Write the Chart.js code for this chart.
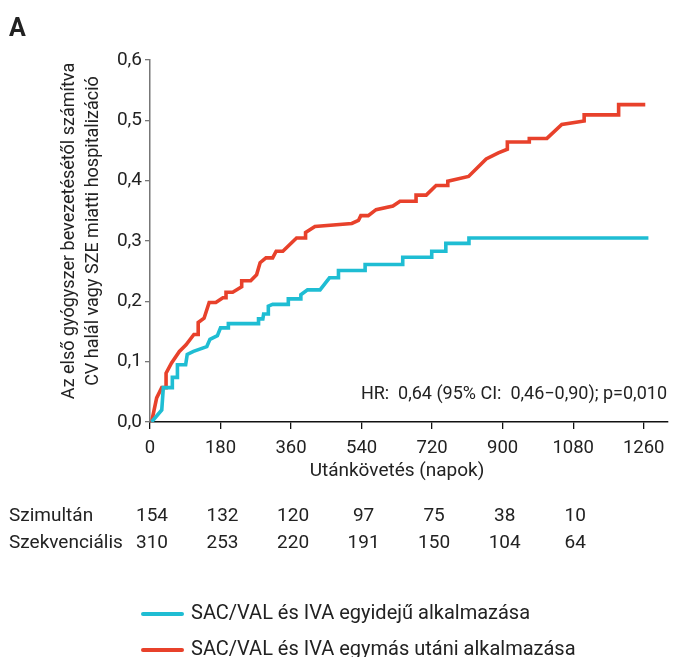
<!DOCTYPE html>
<html><head><meta charset="utf-8">
<script src="https://cdn.jsdelivr.net/npm/chart.js@4/dist/chart.umd.min.js"></script>
<style>html,body{margin:0;padding:0;background:#fff}#wrap{width:673px;height:657px;position:relative}</style>
</head><body><div id="wrap"><canvas id="c" width="673" height="657"></canvas></div>
<script>
// ---- data ----
const xTicks = [0,180,360,540,720,900,1080,1260];
const yTicks = [0,0.1,0.2,0.3,0.4,0.5,0.6];
const seriesNames = ["SAC/VAL és IVA egyidejű alkalmazása","SAC/VAL és IVA egymás utáni alkalmazása"];
const simDays = [4,30,34,57,57,70,70,91,95,111,145,153,172,180,200,200,277,277,288,290,302,302,313,353,353,385,385,402,434,458,481,481,549,549,645,645,719,719,755,755,814,814,1272];
const simVals = [0,0.02,0.057,0.057,0.074,0.074,0.095,0.095,0.112,0.117,0.125,0.137,0.143,0.156,0.156,0.163,0.163,0.171,0.171,0.179,0.179,0.192,0.195,0.195,0.204,0.204,0.211,0.219,0.219,0.239,0.239,0.251,0.251,0.261,0.261,0.273,0.273,0.283,0.283,0.296,0.296,0.305,0.305];
const seqDays = [4,17,30,41,41,55,75,92,112,123,123,138,151,168,186,194,194,211,234,234,257,272,281,296,313,322,339,374,397,397,421,515,532,538,557,577,620,638,679,679,705,730,760,760,813,858,889,912,912,968,968,1013,1051,1108,1108,1196,1196,1264];
const seqVals = [0,0.040,0.057,0.057,0.081,0.098,0.117,0.128,0.145,0.145,0.165,0.172,0.198,0.198,0.206,0.206,0.215,0.215,0.224,0.234,0.234,0.244,0.264,0.272,0.272,0.283,0.283,0.305,0.305,0.314,0.324,0.329,0.334,0.342,0.342,0.352,0.358,0.366,0.366,0.376,0.376,0.392,0.392,0.399,0.407,0.436,0.446,0.452,0.464,0.464,0.470,0.470,0.493,0.499,0.509,0.509,0.526,0.526];
const riskLabels = ["Szimultán","Szekvenciális"];
const riskSim = [154,132,120,97,75,38,10];
const riskSeq = [310,253,220,191,150,104,64];
const hrText = "HR:  0,64 (95% CI:  0,46\u22120,90); p=0,010";
const xTitle = "Utánkövetés (napok)";
const yTitle = ["Az első gyógyszer bevezetésétől számítva","CV halál vagy SZE miatti hospitalizáció"];
const panelLabel = "A";

const CYAN = "#1fbdd3", RED = "#e8412b", FONT = "Roboto, 'DejaVu Sans', sans-serif", TXT = "#222";
const toPts = (d, v) => d.map((x, i) => ({x, y: v[i]}));

const overlay = {
  id: 'overlay',
  afterDraw(chart) {
    const ctx = chart.ctx, xs = chart.scales.x;
    ctx.save();
    ctx.fillStyle = TXT;
    // panel label
    ctx.font = "bold 25px " + FONT; ctx.textAlign = "left"; ctx.textBaseline = "alphabetic";
    ctx.fillText(panelLabel, 9, 36);
    // y title
    ctx.save();
    ctx.translate(81, 231);
    ctx.rotate(-Math.PI / 2);
    ctx.font = "18px " + FONT; ctx.textAlign = "center"; ctx.textBaseline = "middle";
    ctx.fillText(yTitle[0], 0, -12);
    ctx.fillText(yTitle[1], 0, 12);
    ctx.restore();
    // x title
    ctx.font = "19px " + FONT; ctx.textAlign = "center"; ctx.textBaseline = "middle";
    ctx.fillText(xTitle, 397, 471);
    // HR
    ctx.font = "18px " + FONT;
    ctx.textAlign = "right";
    ctx.fillText(hrText, 667, 394);
    // risk table
    ctx.font = "19px " + FONT;
    ctx.textAlign = "left";
    ctx.fillText(riskLabels[0], 9, 516);
    ctx.fillText(riskLabels[1], 9, 543);
    ctx.textAlign = "center";
    xTicks.slice(0, riskSim.length).forEach((t, i) => {
      const px = xs.getPixelForValue(t) + 2;
      ctx.fillText(String(riskSim[i]), px, 516);
      ctx.fillText(String(riskSeq[i]), px, 543);
    });
    // legend
    ctx.font = "20px " + FONT;
    const leg = [[CYAN, 614], [RED, 650]];
    leg.forEach(([c, y], i) => {
      ctx.strokeStyle = c; ctx.lineWidth = 4; ctx.lineCap = "round";
      ctx.beginPath(); ctx.moveTo(143, y); ctx.lineTo(182, y); ctx.stroke();
      ctx.textAlign = "left"; ctx.fillStyle = TXT;
      ctx.fillText(seriesNames[i], 191, y);
    });
    ctx.restore();
  }
};

new Chart(document.getElementById('c'), {
  type: 'line',
  data: {
    datasets: [
      {label: seriesNames[0], data: toPts(simDays, simVals), borderColor: CYAN, borderWidth: 3.6, pointRadius: 0, tension: 0, fill: false, borderJoinStyle: 'miter'},
      {label: seriesNames[1], data: toPts(seqDays, seqVals), borderColor: RED, borderWidth: 3.6, pointRadius: 0, tension: 0, fill: false, borderJoinStyle: 'miter'}
    ]
  },
  options: {
    responsive: false, animation: false, devicePixelRatio: 1,
    layout: {padding: {left: 0, right: 5, top: 60, bottom: 185}},
    plugins: {legend: {display: false}, tooltip: {enabled: false}},
    scales: {
      x: {
        type: 'linear', min: 0, max: 1322,
        afterBuildTicks: s => { s.ticks = xTicks.map(v => ({value: v})); },
        afterFit: s => { s.height = 50; },
        border: {color: '#111', width: 1.5},
        grid: {drawOnChartArea: false, drawTicks: true, tickLength: 7, color: '#111', lineWidth: 1.3},
        ticks: {color: TXT, font: {family: FONT, size: 18.5}, padding: 8, maxRotation: 0, autoSkip: false,
          callback: v => String(v)}
      },
      y: {
        min: 0, max: 0.6,
        afterBuildTicks: s => { s.ticks = yTicks.map(v => ({value: v})); },
        afterFit: s => { s.width = 150; },
        border: {color: '#777', width: 1.5},
        grid: {drawOnChartArea: false, drawTicks: true, tickLength: 5, color: '#777', lineWidth: 1.3},
        ticks: {color: TXT, font: {family: FONT, size: 19}, padding: 3,
          callback: v => v.toFixed(1).replace('.', ',')}
      }
    }
  },
  plugins: [overlay]
});
</script></body></html>
